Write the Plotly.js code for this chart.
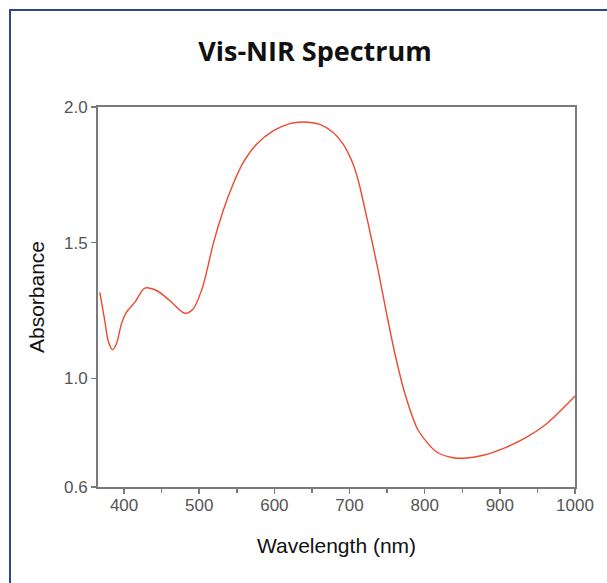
<!DOCTYPE html>
<html>
<head>
<meta charset="utf-8">
<script src="https://cdn.plot.ly/plotly-3.0.1.min.js"></script>
<style>
  html, body { margin: 0; padding: 0; width: 607px; height: 583px; overflow: hidden; background: #fff; }
  #frame { position: absolute; left: 9px; top: 9px; width: 800px; height: 800px; border: 2px solid #2b4a80; box-sizing: border-box; }
  #chart { position: absolute; left: 0; top: 0; width: 607px; height: 583px; }
</style>
</head>
<body>
<div id="frame"></div>
<div id="chart"></div>
<script>
// Wavelength (nm) and absorbance
const wavelength = [367.7, 374.3, 378.7, 384.6, 389.9, 396.5, 403.2, 414.2, 427.6, 443.1, 460.8, 480.8, 491.9, 503.0, 509.7,
  518.5, 531.8, 545.1, 558.4, 576.3, 598.3, 620.6, 638.3, 660.5, 678.2, 691.5, 704.8, 711.5, 724.8, 738.1,
  749.3, 760.4, 773.7, 791.4, 815.9, 838.0, 855.8, 877.9, 909.0, 935.7, 962.3, 1000.0];
const absorbance = [1.317, 1.213, 1.140, 1.106, 1.128, 1.201, 1.244, 1.280, 1.333, 1.324, 1.287, 1.240, 1.256, 1.324, 1.391,
  1.495, 1.618, 1.716, 1.795, 1.863, 1.912, 1.939, 1.945, 1.936, 1.906, 1.863, 1.789, 1.730, 1.570, 1.398,
  1.239, 1.091, 0.944, 0.809, 0.729, 0.708, 0.707, 0.717, 0.747, 0.784, 0.833, 0.935];
const xTicks = [400, 500, 600, 700, 800, 900, 1000];
const yTicks = [0.6, 1.0, 1.5, 2.0];
const yTickText = ['0.6', '1.0', '1.5', '2.0'];

const trace = {
  x: wavelength, y: absorbance, type: 'scatter', mode: 'lines',
  line: { color: '#f0482e', width: 1.4, shape: 'spline', smoothing: 0.8 },
  hoverinfo: 'skip'
};

const tickFont = { family: '"Liberation Sans", Arial, sans-serif', size: 17, color: '#555' };
const axisCommon = {
  showgrid: false, zeroline: false, showline: true, linecolor: '#7a7a7a', linewidth: 2,
  ticks: 'outside', ticklen: 5, tickwidth: 1.5, tickcolor: '#7a7a7a',
  tickfont: tickFont, mirror: true, fixedrange: true
};

const layout = {
  width: 607, height: 583,
  margin: { l: 98, r: 32, t: 107, b: 96 },
  paper_bgcolor: 'rgba(0,0,0,0)', plot_bgcolor: '#fff',
  showlegend: false,
  title: { text: '<b>Vis-NIR Spectrum</b>', x: 0.519, xanchor: 'center', y: 0.912, yanchor: 'middle',
    font: { family: '"Open Sans", sans-serif', size: 27, color: '#111' } },
  xaxis: Object.assign({}, axisCommon, {
    range: [365.3, 1000], tickvals: xTicks, ticktext: xTicks.map(String),
    ticklabelstandoff: -3,
    minor: { dtick: 50, tick0: 350, ticks: 'outside', ticklen: 4, tickcolor: '#7a7a7a', tickwidth: 1.5 },
    title: { text: 'Wavelength (nm)', standoff: 24, font: { family: '"Liberation Sans", Arial, sans-serif', size: 21, color: '#111' } }
  }),
  yaxis: Object.assign({}, axisCommon, {
    range: [0.6, 2.0], tickvals: yTicks, ticktext: yTickText,
    title: { text: 'Absorbance', standoff: 14, font: { family: '"Liberation Sans", Arial, sans-serif', size: 21, color: '#111' } }
  })
};

Plotly.newPlot('chart', [trace], layout, { displayModeBar: false, staticPlot: true });
</script>
</body>
</html>
